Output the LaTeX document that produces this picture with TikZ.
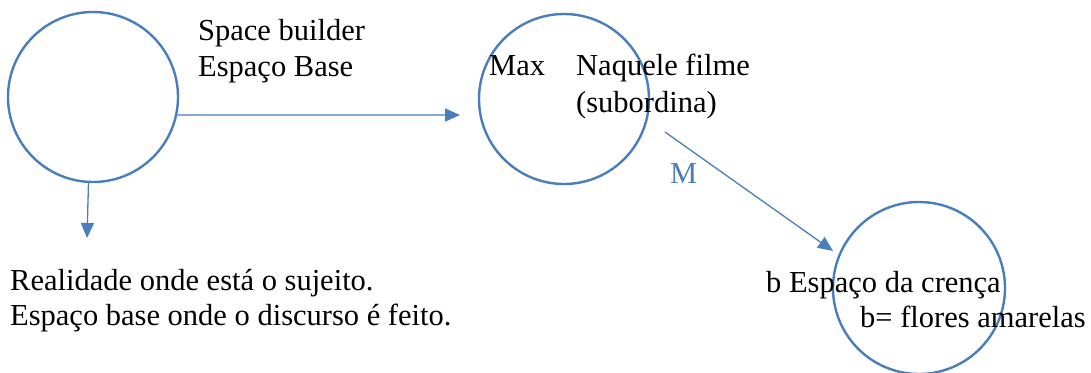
\documentclass[tikz,border=0pt]{standalone}
\usepackage{fontspec}
\setmainfont{Liberation Serif}
\usetikzlibrary{arrows.meta}
\definecolor{obl}{RGB}{74,126,187}
\tikzset{
  ring/.style={circle, draw=obl, line width=2.4pt, minimum size=170pt, inner sep=0pt},
  conn/.style={draw=obl, line width=1.3pt, -{Triangle[length=15pt,width=13pt]}},
  lbl/.style={anchor=base west, inner sep=0pt, font=\fontsize{30.5}{35}\selectfont},
}
\begin{document}
\begin{tikzpicture}[x=1pt,y=-1pt]
\useasboundingbox (0,0) rectangle (1091,372);
\node[ring] (c1) at (93,97) {};
\node[ring] (c2) at (564,99) {};
\node[ring, minimum size=172pt] (c3) at (919,288) {};
\coordinate (e1) at (460,115);
\coordinate (e2) at (87,238);
\coordinate (s3) at (665,132);
\coordinate (e3) at (833,251);
\draw[conn] (c1.-12) -- (e1);
\draw[conn] (c1.-93) -- (e2);
\draw[conn] (s3) -- (e3);
\node[lbl] (t1) at (198,40) {Space builder};
\node[lbl] (t2) at (198,76) {Espaço Base};
\node[lbl] (t3) at (489,75) {Max};
\node[lbl] (t4) at (576,75) {Naquele filme};
\node[lbl] (t5) at (576,112) {(subordina)};
\node[lbl, text=obl] (t6) at (670,183) {M};
\node[lbl] (t7) at (10,290) {Realidade onde está o sujeito.};
\node[lbl] (t8) at (10,325) {Espaço base onde o discurso é feito.};
\node[lbl] (t9) at (766,292) {b Espaço da crença};
\node[lbl] (t10) at (860,327) {b= flores amarelas};
\end{tikzpicture}
\end{document}
